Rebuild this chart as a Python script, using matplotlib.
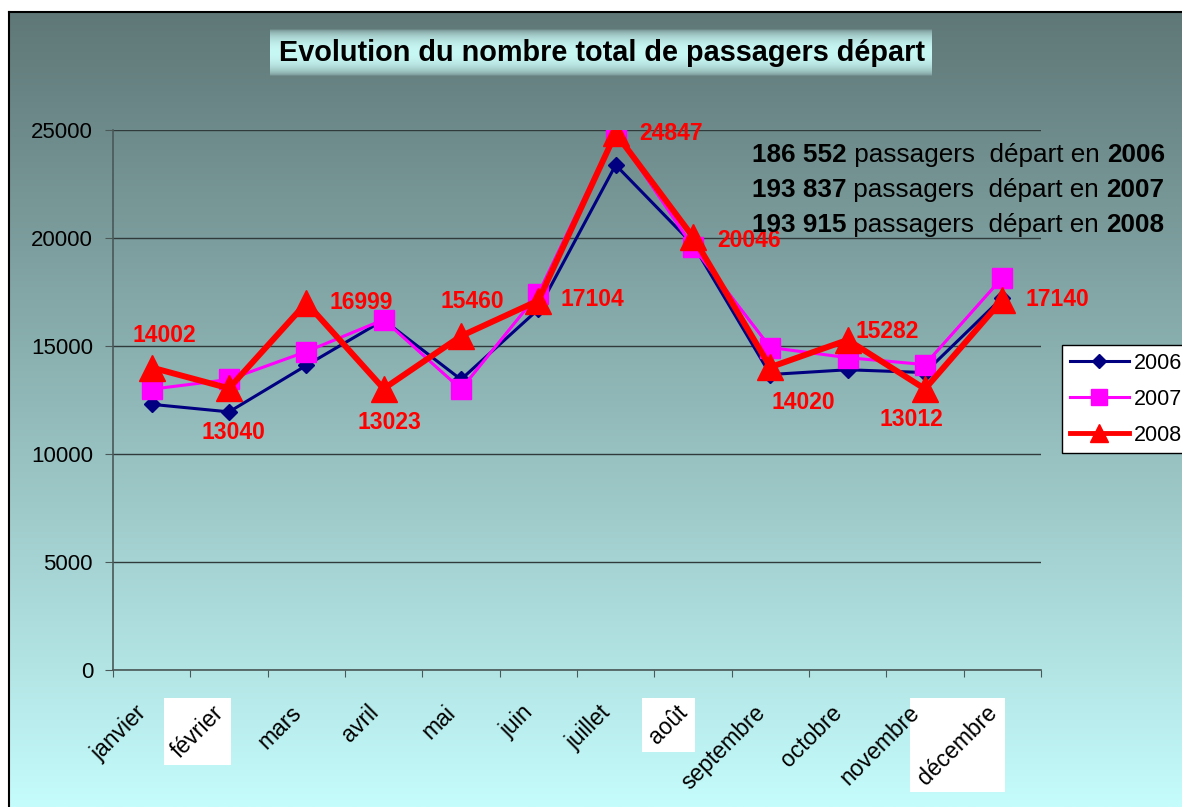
import matplotlib.pyplot as plt
import matplotlib.transforms as mtransforms
from matplotlib.lines import Line2D
from matplotlib.patches import Rectangle
import numpy as np

plt.rcParams["font.family"] = ["Liberation Sans", "DejaVu Sans"]

mois = ["janvier", "février", "mars", "avril", "mai", "juin", "juillet", "août",
        "septembre", "octobre", "novembre", "décembre"]
p2006 = [12300, 11950, 14100, 16200, 13450, 16700, 23380, 19700, 13680, 13900, 13770, 17240]
p2007 = [13000, 13450, 14740, 16220, 13000, 17420, 24900, 19590, 14930, 14460, 14140, 18160]
p2008 = [14002, 13040, 16999, 13023, 15460, 17104, 24847, 20046, 14020, 15282, 13012, 17140]
annees = ["2006", "2007", "2008"]
totaux = ["186 552", "193 837", "193 915"]
mois_encadres = ["février", "août", "décembre"]

W, H = 1182, 807
fig = plt.figure(figsize=(W / 100, H / 100), dpi=100)
fig.patch.set_facecolor("white")

# background: vertical gradient, framed
bg = fig.add_axes([0, 0, 1, 1], zorder=-10)
top_col = np.array([95, 119, 119]) / 255
bot_col = np.array([197, 252, 252]) / 255
t = np.linspace(0, 1, 400)[:, None, None]
bg.imshow(top_col + (bot_col - top_col) * t, extent=(9, W, H, 12), aspect="auto")

# title box with its own soft gradient
y0, y1 = 29, 76
tt = np.linspace(0, 1, 100)
w = np.sin(np.pi * tt) ** 0.5
frac = ((y0 + (y1 - y0) * tt) - 12) / (H - 12)
base = top_col + (bot_col - top_col) * frac[:, None]
light = np.array([200, 248, 244]) / 255
box = base * (1 - w[:, None]) + light * w[:, None]
bg.imshow(box[:, None, :], extent=(270, 932, y1, y0), aspect="auto")
bg.plot([9, 9], [H, 12], color="black", lw=1.5)
bg.plot([9, W], [12, 12], color="black", lw=1.5)
bg.set_xlim(0, W)
bg.set_ylim(H, 0)
bg.axis("off")

fig.text(602 / W, 1 - 53 / H, "Evolution du nombre total de passagers départ",
         fontsize=20.8, fontweight="bold", ha="center", va="center")

# main chart
ax = fig.add_axes([113 / W, 1 - 670 / H, (1041 - 113) / W, (670 - 130) / H])
ax.set_facecolor("none")
x = np.arange(len(mois))
ax.plot(x, p2006, color="#000080", lw=2.2, marker="D", ms=8, mec="#000080", zorder=3)
ax.plot(x, p2007, color="#ff00ff", lw=2.2, marker="s", ms=14, mec="#ff00ff", zorder=4)
ax.plot(x, p2008, color="#ff0000", lw=4.3, marker="^", ms=19, mec="#ff0000", zorder=5)

# data labels for 2008 (offsets in pixels: right, down)
offs = [(13, -32), (4, 44), (55, 0), (6, 34), (11, -35), (54, -1),
        (55, 0), (56, 3), (33, 35), (40, -8), (-14, 31), (55, 0)]
for xi, v, (dx, dy) in zip(x, p2008, offs):
    ax.annotate(str(v), (xi, v), xytext=(dx * 0.72, -dy * 0.72), textcoords="offset points",
                ha="center", va="center", color="#ff0000", fontsize=16.5,
                fontweight="bold", zorder=6, annotation_clip=False)

ax.set_xlim(-0.5, 11.5)
ax.set_ylim(0, 25000)
ax.set_yticks(range(0, 25001, 5000))
ax.yaxis.grid(True, color="#303a3a", lw=1)
ax.set_axisbelow(True)
ax.set_xticks(np.arange(-0.5, 12, 1))
ax.set_xticklabels([])
ax.set_xticks(x, minor=True)
ax.set_xticklabels(mois, minor=True, rotation=45, ha="right", rotation_mode="anchor")
ax.tick_params(axis="x", which="major", length=5, color="#4a5858", direction="out")
ax.tick_params(axis="x", which="minor", length=0, pad=15, labelsize=16.5)
ax.tick_params(axis="y", length=5.8, pad=8.6, labelsize=16, color="#4a5858")
for s in ["top", "right"]:
    ax.spines[s].set_visible(False)
for s in ["left", "bottom"]:
    ax.spines[s].set_color("#4a5858")
    ax.spines[s].set_linewidth(1.2)

off = mtransforms.ScaledTranslation(-17 / 100, -10 / 100, fig.dpi_scale_trans)
for lbl in ax.get_xticklabels(minor=True):
    lbl.set_transform(lbl.get_transform() + off)

# totals
for i, (tot, an) in enumerate(zip(totaux, annees)):
    yy = 1 - (155 + 35 * i) / H
    t1 = fig.text(752 / W, yy, tot, fontsize=18.8, fontweight="bold", va="center")
    a2 = ax.annotate(" passagers  départ en ", xy=(1, 0), xycoords=t1, va="bottom",
                     fontsize=18.8, annotation_clip=False)
    ax.annotate(an, xy=(1, 0), xycoords=a2, va="bottom", fontsize=18.8,
                fontweight="bold", annotation_clip=False)

# legend
handles = [
    Line2D([], [], color="#000080", lw=2.2, marker="D", ms=7.5),
    Line2D([], [], color="#ff00ff", lw=2.2, marker="s", ms=12),
    Line2D([], [], color="#ff0000", lw=3.5, marker="^", ms=13),
]
fig.legend(handles, annees, loc="upper left", bbox_to_anchor=(1062 / W, 1 - 345 / H),
           bbox_transform=fig.transFigure, borderaxespad=0, fontsize=15.5,
           frameon=True, fancybox=False, framealpha=1, facecolor="white",
           edgecolor="black", handlelength=2.75, handletextpad=0.25,
           labelspacing=0.7, borderpad=0.35)

# white boxes behind some month labels
fig.canvas.draw()
r = fig.canvas.get_renderer()
for lbl in ax.get_xticklabels(minor=True):
    if lbl.get_text() in mois_encadres:
        bb = lbl.get_window_extent(r)
        bg.add_patch(Rectangle((bb.x0 - 3, H - bb.y1 - 3), bb.width + 6, bb.height + 6,
                               facecolor="white", edgecolor="none", zorder=5))

fig.savefig("out.png", dpi=100)
